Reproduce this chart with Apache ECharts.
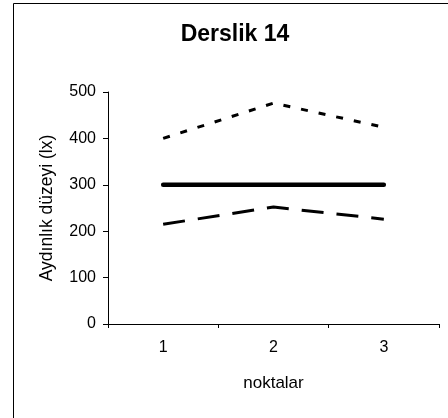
<!DOCTYPE html>
<html><head><meta charset="utf-8">
<script src="https://cdn.jsdelivr.net/npm/echarts@6/dist/echarts.min.js"></script>
<style>html,body{margin:0;padding:0;background:#fff}#c{width:448px;height:418px}</style>
</head><body><div id="c"></div>
<script>
const categories = ['1', '2', '3'];
const upperValues = [400, 476, 424];
const middleValues = [300, 300, 300];
const lowerValues = [215, 252, 226];
const yTicks = [0, 100, 200, 300, 400, 500];

const chart = echarts.init(document.getElementById('c'), null, {renderer: 'canvas'});
const font = 'Liberation Sans, Arial, sans-serif';
chart.setOption({
  animation: false,
  backgroundColor: '#fff',
  graphic: [{type: 'rect', shape: {x: 13.5, y: 3.5, width: 440, height: 420}, style: {fill: 'none', stroke: '#000', lineWidth: 1}, silent: true}],
  title: {text: 'Derslik 14', left: 230, top: 18, textAlign: 'center',
    textStyle: {fontFamily: font, fontSize: 23, fontWeight: 'bold', color: '#000'}},
  grid: {left: 108, right: 9, top: 92, bottom: 94},
  xAxis: {type: 'category', data: categories, boundaryGap: true,
    name: 'noktalar', nameLocation: 'middle', nameGap: 51,
    nameTextStyle: {fontFamily: font, fontSize: 17, color: '#000'},
    axisLine: {lineStyle: {color: '#000', width: 1}},
    axisTick: {show: true, length: 4, inside: false, lineStyle: {color: '#000'}},
    axisLabel: {fontFamily: font, fontSize: 16, color: '#000', margin: 16},
    splitLine: {show: false}},
  yAxis: {type: 'value', min: 0, max: 500, interval: 100,
    name: 'Aydınlık düzeyi (lx)', nameLocation: 'middle', nameGap: 52,
    nameTextStyle: {fontFamily: font, fontSize: 17.5, color: '#000'},
    axisLine: {show: true, lineStyle: {color: '#000', width: 1}},
    axisTick: {show: true, length: 5, lineStyle: {color: '#000'}},
    axisLabel: {fontFamily: font, fontSize: 16, color: '#000', margin: 12,
      formatter: v => yTicks.includes(v) ? String(v) : ''},
    splitLine: {show: false}},
  series: [
    {type: 'line', data: upperValues, symbol: 'none',
      lineStyle: {color: '#000', width: 3, type: [7, 11], cap: 'butt'}},
    {type: 'line', data: middleValues, symbol: 'none',
      lineStyle: {color: '#000', width: 4.5, type: 'solid', cap: 'round'}},
    {type: 'line', data: lowerValues, symbol: 'none',
      lineStyle: {color: '#000', width: 3, type: [22, 13], cap: 'butt'}}
  ]
});
</script></body></html>
